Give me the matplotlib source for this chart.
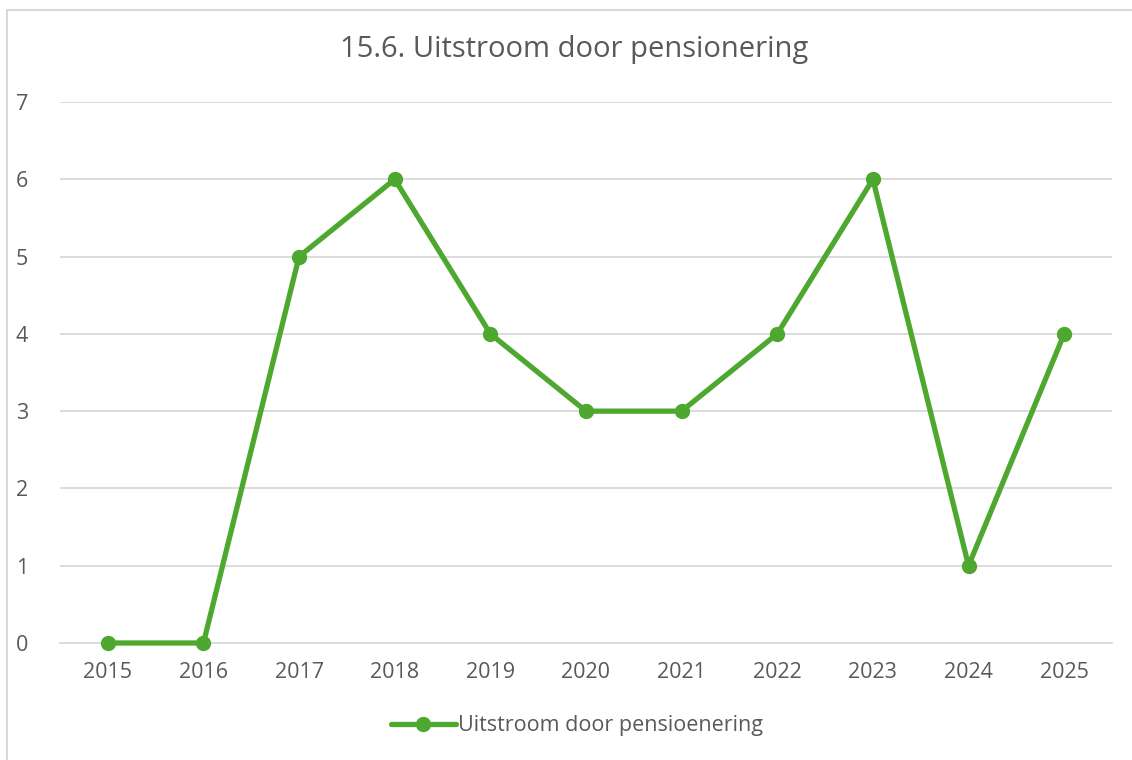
import matplotlib
matplotlib.use("Agg")
import matplotlib.pyplot as plt
from matplotlib.patches import Rectangle

# data
years = ["2015", "2016", "2017", "2018", "2019", "2020",
         "2021", "2022", "2023", "2024", "2025"]
uitstroom = [0, 0, 5, 6, 4, 3, 3, 4, 6, 1, 4]
y_ticks = [0, 1, 2, 3, 4, 5, 6, 7]

green = "#4EA72E"
text_col = "#595959"
grid_col = "#D9D9D9"

plt.rcParams["font.family"] = ["Open Sans", "DejaVu Sans"]

fig = plt.figure(figsize=(11.32, 7.6), dpi=100)
W, H = 1132, 760

# chart frame (left and top edges visible)
fig.patches.append(Rectangle((7 / W, -0.1), 1.2, 1 - 10 / H + 0.1,
                             transform=fig.transFigure, fill=False,
                             edgecolor=grid_col, linewidth=1.5))

ax = fig.add_axes([60 / W, 1 - 643 / H, (1112 - 60) / W, (643 - 102) / H])
x = list(range(len(years)))
ax.plot(x, uitstroom, color=green, linewidth=3.8, marker="o",
        markersize=10, solid_capstyle="round", zorder=3, clip_on=False,
        label="Uitstroom door pensioenering")

ax.set_xlim(-0.5, len(years) - 0.5)
ax.set_ylim(0, 7)
ax.set_yticks(y_ticks)
ax.set_xticks(x)
ax.set_xticklabels(years)
ax.grid(axis="y", color=grid_col, linewidth=1.3)
ax.set_axisbelow(True)
for s in ax.spines.values():
    s.set_visible(False)
ax.spines["bottom"].set_visible(True)
ax.spines["bottom"].set_color(grid_col)
ax.spines["bottom"].set_linewidth(1.3)
ax.tick_params(length=0, labelsize=15.5, labelcolor=text_col)
ax.tick_params(axis="x", pad=14)
ax.tick_params(axis="y", pad=23)

fig.text(574 / W, 1 - 50 / H, "15.6. Uitstroom door pensionering",
         ha="center", va="center", fontsize=21, color=text_col)

fig.legend(loc="center", bbox_to_anchor=(577 / W, 1 - 726 / H), frameon=False,
           fontsize=15.5, labelcolor=text_col, handlelength=3.0, handletextpad=0.1)

fig.savefig("out.png", dpi=100)
